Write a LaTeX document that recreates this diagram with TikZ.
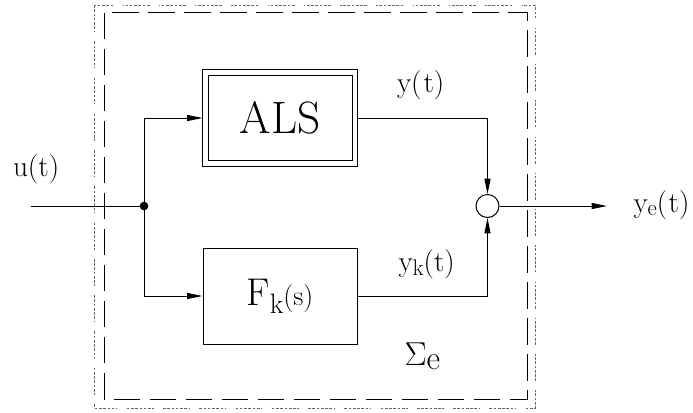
\documentclass[tikz,border=0pt]{standalone}
\usetikzlibrary{arrows.meta}
\begin{document}
\begin{tikzpicture}[x=0.75pt,y=-0.75pt,line width=0.75pt,
  arr/.style={-{Triangle[length=11.5pt,width=4.5pt]}},
  lbl/.style={anchor=base west,inner sep=0pt,font=\fontsize{22}{24}\selectfont},
  blockbox/.style={draw,inner sep=0pt,minimum width=115.5pt,minimum height=72pt},
  dashbox/.style={draw,line width=0.6pt,dash pattern=on 20pt off 7pt},
  dotbox/.style={draw=black!60,line width=0.7pt,dash pattern=on 2pt off 1.2pt on 2pt off 1.2pt on 2pt off 1.2pt on 2pt off 1.2pt on 2pt off 1.2pt on 2pt off 1.2pt on 1pt off 7pt}]
\fill[white] (0,0) rectangle (693,412);
\useasboundingbox (0,0) rectangle (693,412);
% enclosing rectangles
\draw[dotbox] (94.5,5) rectangle (535,408);
\draw[dashbox] (104,12.5) rectangle (527,399);
% blocks
\node[draw,double,double distance=3.4pt,outer sep=2.2pt,inner sep=0pt,
      minimum width=112.1pt,minimum height=68.4pt,
      font=\fontsize{34}{36}\selectfont] (ALS) at (280.2,118) {ALS};
\node[blockbox] (F) at (280,296)
  {{\fontsize{29}{31}\selectfont F}\raisebox{-6pt}{\fontsize{21}{23}\selectfont k}{\fontsize{21}{23}\selectfont (s)}};
\node[draw,circle,inner sep=0pt,minimum size=17.25pt] (sum) at (487.5,206) {};
\node[circle,fill,inner sep=0pt,minimum size=6.5pt] (j) at (144,206) {};
\coordinate (in) at (31,206);
\coordinate (out) at (607,206);
% connectors
\draw (in) -- (j.center);
\draw[arr] (j.center) |- (ALS.west);
\draw[arr] (j.center) |- (F.west);
\draw[arr] (ALS.east) -| (sum.north);
\draw[arr] (F.east) -| (sum.south);
\draw[arr] (sum.east) -- (out);
% labels
\node[lbl] (lu) at (12.5,176) {u(t)};
\node[lbl] (ly) at (396.5,92.5) {y(\kern1.5pt t)};
\node[lbl] (lyk) at (398,271) {y\raisebox{-3pt}{\fontsize{17}{19}\selectfont k}(t)};
\node[lbl] (lye) at (633,212) {y\raisebox{-2.5pt}{\fontsize{17}{19}\selectfont e}(\kern1pt t)};
\node[anchor=base west,inner sep=0pt] (sig) at (404,365)
  {{\fontsize{33}{35}\selectfont$\Sigma$}\raisebox{-3pt}{\fontsize{25}{27}\selectfont e}};
\end{tikzpicture}
\end{document}
